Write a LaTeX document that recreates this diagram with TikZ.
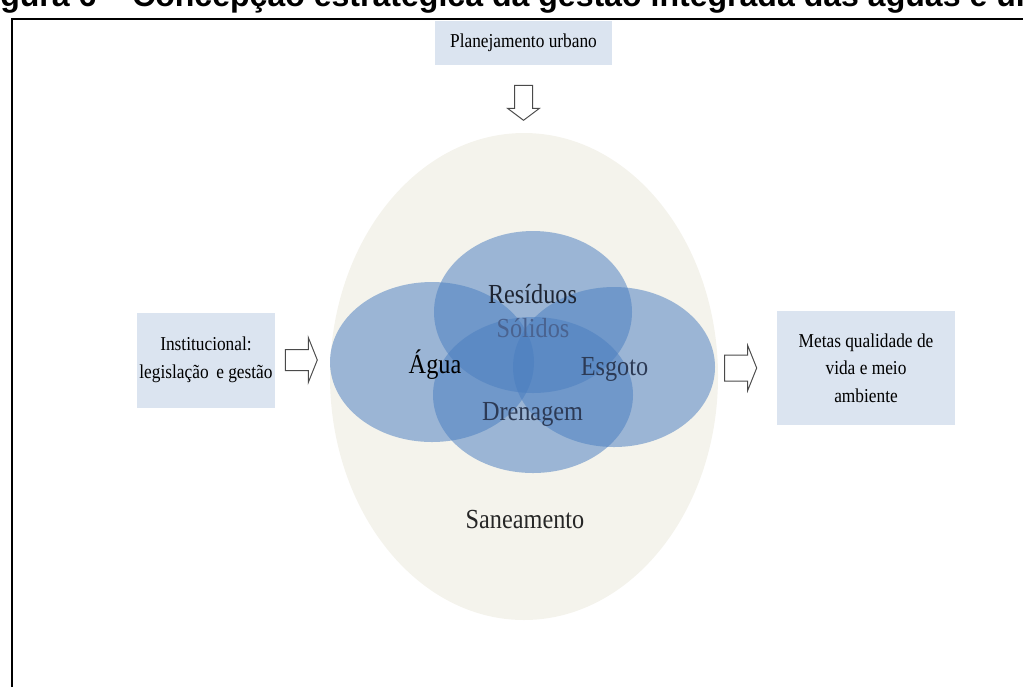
\documentclass[tikz,border=0pt]{standalone}
\usepackage{fontspec}
\setmainfont{Liberation Serif}
\newfontfamily\headfont{Liberation Sans}
\newfontfamily\narrowserif[FakeStretch=0.88]{Liberation Serif}
\definecolor{boxfill}{HTML}{DBE4F0}
\definecolor{sanfill}{HTML}{F4F3EC}
\definecolor{petalblue}{HTML}{4A7EC0}
\definecolor{arrowgray}{HTML}{4A4A4A}
\definecolor{labeldark}{HTML}{1E2533}
\definecolor{labelmid}{HTML}{2C3A55}
\definecolor{labellight}{HTML}{4A6390}

\begin{document}
\begin{tikzpicture}[x=0.025cm, y=-0.025cm,
    infobox/.style={fill=boxfill, inner sep=0pt, align=center,
      font=\narrowserif\fontsize{14}{19.6}\selectfont},
    petal/.style={fill=petalblue, fill opacity=0.52},
    petallabel/.style={anchor=base, inner sep=0pt, font=\narrowserif\fontsize{19.6}{22}\selectfont},
    hollowarrow/.style={draw=arrowgray, fill=white, line width=0.7pt, line join=miter}]

\useasboundingbox (0,0) rectangle (1023,687);
\clip (0,0) rectangle (1023,687);

% Caption line (cut at the top)
\node[anchor=base west, inner sep=0pt, font=\headfont\bfseries\fontsize{22.8}{26}\selectfont]
  (caption) at (-28.5,6.5) {Figura 6 – Concepção estratégica da gestão integrada das águas e ur};

% Frame
\draw[line width=1.4pt] (12,687) -- (12,19) -- (1023,19);

% Saneamento
\fill[sanfill] (524,376.5) ellipse (194 and 243.5);

% Petals
\fill[petal] (432,362) ellipse (102 and 80);
\fill[petal] (614,367) ellipse (101 and 80);
\fill[petal] (533,312) ellipse (99 and 81);
\fill[petal] (533,395) ellipse (100 and 78);

% Labels
\node[petallabel, text=labeldark] (residuos) at (532.5,303) {Resíduos};
\node[petallabel, text=labellight] (solidos) at (533,337) {Sólidos};
\node[petallabel, text=black] (agua) at (435,373) {Água};
\node[petallabel, text=labelmid] (esgoto) at (614.5,375) {Esgoto};
\node[petallabel, text=labelmid] (drenagem) at (532.5,420) {Drenagem};
\node[petallabel, text=black!85] (saneamento) at (525,528) {Saneamento};

% Boxes
\node[infobox, minimum width=4.425cm, minimum height=1.1cm] (plan) at (523.5,43) {Planejamento urbano};
\node[infobox, minimum width=3.45cm, minimum height=2.375cm] (inst) at (206,360) {Institucional:\\legislação\, e gestão};
\node[infobox, minimum width=4.45cm, minimum height=2.85cm] (metas) at (866,368) {Metas qualidade de\\vida e meio\\ambiente};

% Block arrows
\draw[hollowarrow, shift={(plan.south)}] (-9,20) -- (-9,43) -- (-16,43) -- (0,55) -- (16,43) -- (9,43) -- (9,20) -- cycle;
\draw[hollowarrow, shift={(inst.east)}] (10,-10.5) -- (33,-10.5) -- (33,-22.5) -- (42,0) -- (33,22.5) -- (33,10.5) -- (10,10.5) -- cycle;
\draw[hollowarrow, shift={(metas.west)}] (-52,-13) -- (-29,-13) -- (-29,-22.5) -- (-20,0) -- (-29,22.5) -- (-29,13) -- (-52,13) -- cycle;
\end{tikzpicture}
\end{document}
